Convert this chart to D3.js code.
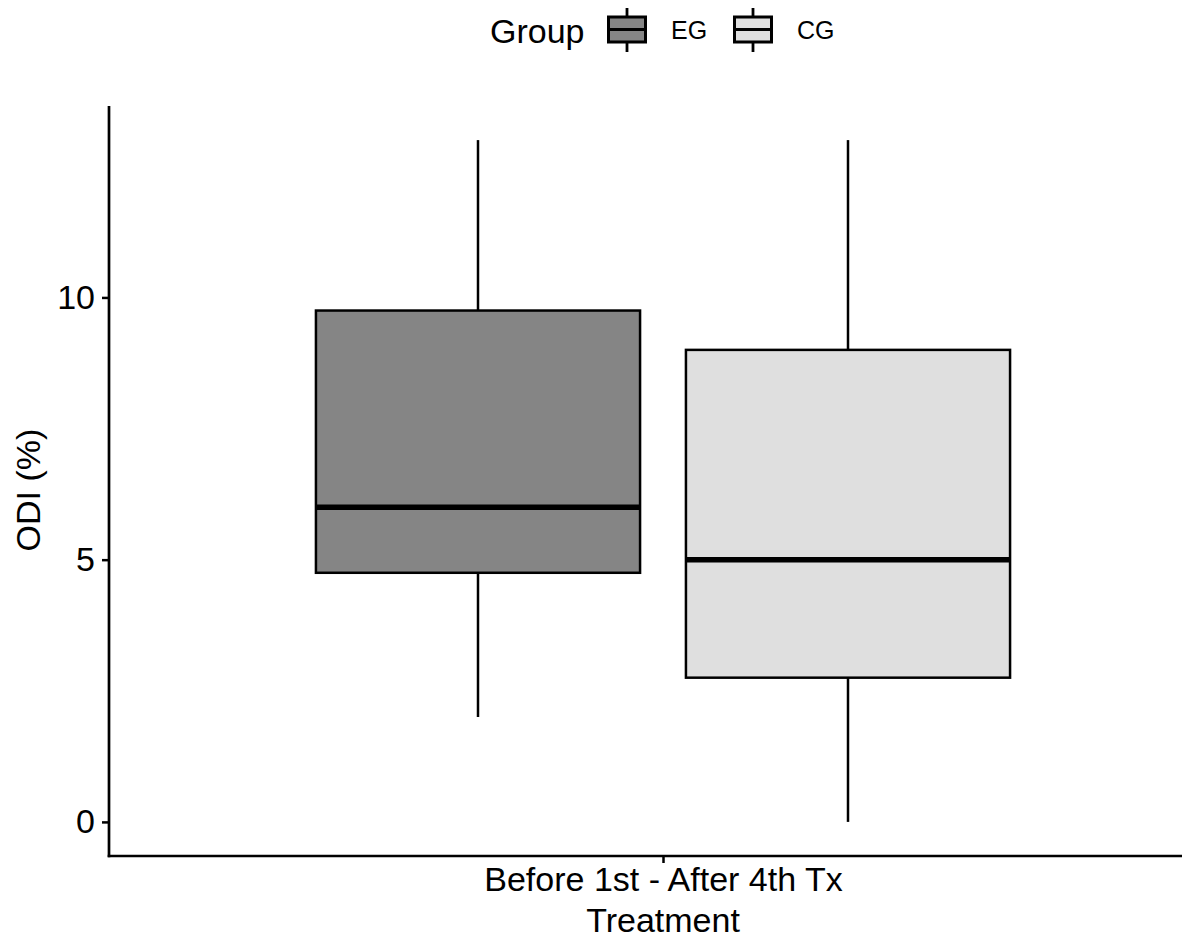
<!DOCTYPE html>
<html>
<head>
<meta charset="utf-8">
<script src="https://cdn.jsdelivr.net/npm/d3@7"></script>
<style>
  body { margin: 0; background: #fff; }
  text { font-family: "Liberation Sans", Arial, sans-serif; }
</style>
</head>
<body>
<svg id="mainSVG" width="1182" height="942"></svg>
<script>
var mainSVG = d3.select("#mainSVG");

// dados
var categories = ["Before 1st - After 4th Tx"];
var groups = ["EG", "CG"];
var groupFill = ["#858585", "#dfdfdf"];
var whiskerLow = [2, 0];
var q1 = [4.75, 2.75];
var medians = [6, 5];
var q3 = [9.75, 9];
var whiskerHigh = [13, 13];
var yTicks = [0, 5, 10];

var boxes = groups.map(function (g, i) {
  return { group: g, cat: categories[0], fill: groupFill[i],
    lo: whiskerLow[i], q1: q1[i], med: medians[i], q3: q3[i], hi: whiskerHigh[i] };
});

// Escalas
var panel = { left: 109, right: 1217, top: 106, bottom: 856 };
var yScale = d3.scaleLinear().domain([-0.65, 13.65]).range([panel.bottom, panel.top]);
var xScale = d3.scalePoint().domain(categories).range([panel.left, panel.right]).padding(0.5);
var groupScale = d3.scaleBand().domain(groups).range([-370, 370])
  .paddingInner(0.124).paddingOuter(0.062);

// Caixas
var box = mainSVG.selectAll(".box").data(boxes).enter().append("g")
  .attr("class", "box")
  .attr("transform", function (d) { return "translate(" + (xScale(d.cat) + groupScale(d.group)) + ",0)"; });
var bw = groupScale.bandwidth();

box.append("line")
  .attr("x1", bw / 2).attr("x2", bw / 2)
  .attr("y1", function (d) { return yScale(d.hi); })
  .attr("y2", function (d) { return yScale(d.q3); })
  .attr("stroke", "#000").attr("stroke-width", 2.5);
box.append("line")
  .attr("x1", bw / 2).attr("x2", bw / 2)
  .attr("y1", function (d) { return yScale(d.q1); })
  .attr("y2", function (d) { return yScale(d.lo); })
  .attr("stroke", "#000").attr("stroke-width", 2.5);
box.append("rect")
  .attr("x", 0).attr("width", bw)
  .attr("y", function (d) { return yScale(d.q3); })
  .attr("height", function (d) { return yScale(d.q1) - yScale(d.q3); })
  .attr("fill", function (d) { return d.fill; })
  .attr("stroke", "#000").attr("stroke-width", 2.5);
box.append("line")
  .attr("x1", 0).attr("x2", bw)
  .attr("y1", function (d) { return yScale(d.med); })
  .attr("y2", function (d) { return yScale(d.med); })
  .attr("stroke", "#000").attr("stroke-width", 5.5);

// Eixos
var yAxis = d3.axisLeft(yScale).tickValues(yTicks).tickSize(7).tickPadding(7);
var yAxisGroup = mainSVG.append("g").attr("class", "axis")
  .attr("transform", "translate(" + panel.left + ",0)")
  .call(yAxis);
var xAxis = d3.axisBottom(xScale).tickSize(7).tickPadding(4);
var xAxisGroup = mainSVG.append("g").attr("class", "axis")
  .attr("transform", "translate(0," + panel.bottom + ")")
  .call(xAxis);

[yAxisGroup, xAxisGroup].forEach(function (g) {
  g.select(".domain").remove();
  g.selectAll(".tick line").attr("stroke", "#000").attr("stroke-width", 2.5);
  g.selectAll(".tick text").attr("fill", "#000").style("font-size", "34px").attr("font-family", null);
});
mainSVG.append("line")
  .attr("x1", panel.left).attr("x2", panel.left)
  .attr("y1", panel.top).attr("y2", panel.bottom + 1.3)
  .attr("stroke", "#000").attr("stroke-width", 2.7);
mainSVG.append("line")
  .attr("x1", panel.left - 1.3).attr("x2", 1182)
  .attr("y1", panel.bottom).attr("y2", panel.bottom)
  .attr("stroke", "#000").attr("stroke-width", 2.7);

// Titulos dos eixos
mainSVG.append("text")
  .attr("transform", "translate(40,490) rotate(-90)")
  .attr("text-anchor", "middle")
  .style("font-size", "34px")
  .text("ODI (%)");
mainSVG.append("text")
  .attr("x", xScale(categories[0])).attr("y", 932)
  .attr("text-anchor", "middle")
  .style("font-size", "34px")
  .text("Treatment");

// Legenda
var legend = mainSVG.append("g").attr("transform", "translate(490,0)");
legend.append("text").attr("x", 0).attr("y", 43)
  .style("font-size", "34px").text("Group");
var keyX = [117, 243];
var keys = legend.selectAll(".key").data(boxes).enter().append("g")
  .attr("class", "key")
  .attr("transform", function (d, i) { return "translate(" + keyX[i] + ",0)"; });
keys.append("line").attr("x1", 20).attr("x2", 20).attr("y1", 8).attr("y2", 52)
  .attr("stroke", "#000").attr("stroke-width", 2.8);
keys.append("rect").attr("x", 1.5).attr("y", 17).attr("width", 37).attr("height", 25)
  .attr("fill", function (d) { return d.fill; })
  .attr("stroke", "#000").attr("stroke-width", 3);
keys.append("line").attr("x1", 1.5).attr("x2", 38.5).attr("y1", 29.5).attr("y2", 29.5)
  .attr("stroke", "#000").attr("stroke-width", 3);
keys.append("text").attr("x", 64).attr("y", 39)
  .style("font-size", "25px").text(function (d) { return d.group; });
</script>
</body>
</html>
